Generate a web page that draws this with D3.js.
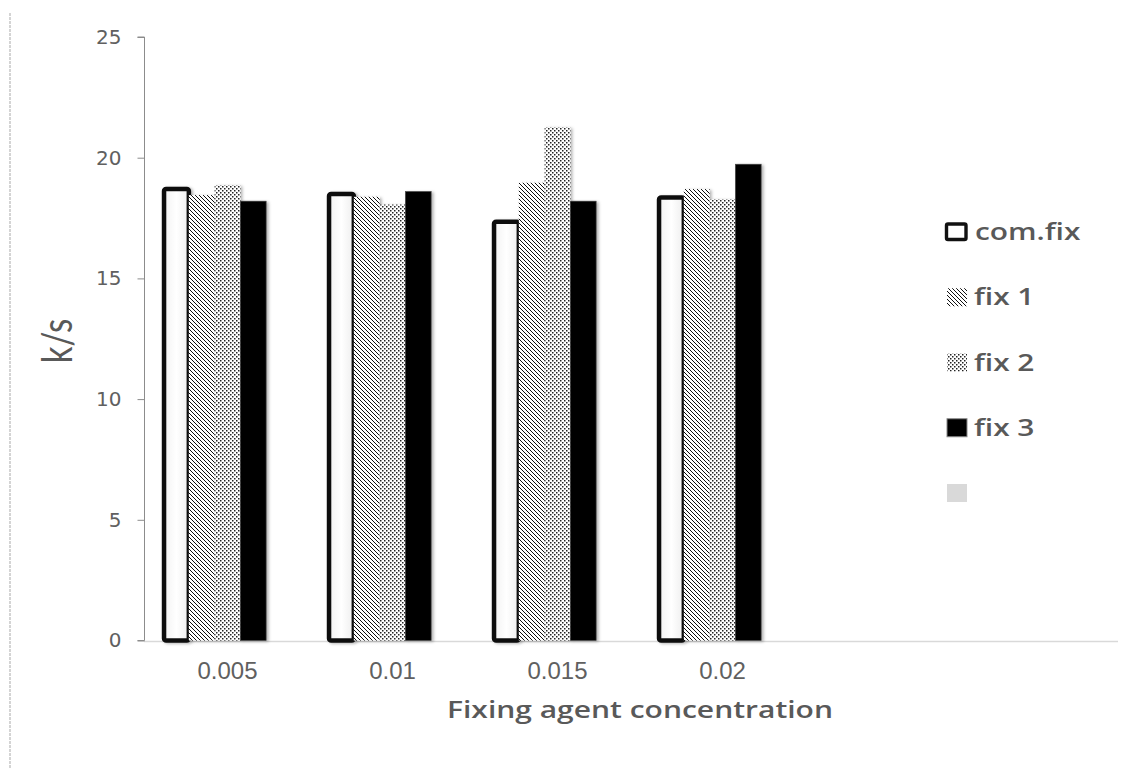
<!DOCTYPE html>
<html><head><meta charset="utf-8">
<script src="https://cdn.jsdelivr.net/npm/d3@7/dist/d3.min.js"></script>
<style>
html,body{margin:0;padding:0;background:#fff;}
svg{display:block;}
</style></head>
<body>
<svg id="chart" width="1148" height="769"></svg>
<script>
// ---- data ----
const categories = ["0.005", "0.01", "0.015", "0.02"];
const emptySlots = ["_e1", "_e2"];           // empty category slots on the x axis
const seriesNames = ["com.fix", "fix 1", "fix 2", "fix 3", ""];
const comFix = [18.7, 18.5, 17.35, 18.35];
const fix1 = [18.45, 18.38, 18.96, 18.7];
const fix2 = [18.86, 18.06, 21.26, 18.28];
const fix3 = [18.2, 18.6, 18.2, 19.73];
const empty = [null, null, null, null];
const yTicks = [0, 5, 10, 15, 20, 25];
const yLabel = "k/s";
const xLabel = "Fixing agent concentration";

const seriesValues = [comFix, fix1, fix2, fix3, empty];

const svg = d3.select("#chart");
const defs = svg.append("defs");

// patterns
const p1 = defs.append("pattern").attr("id", "diag").attr("patternUnits", "userSpaceOnUse")
  .attr("width", 4).attr("height", 4);
p1.append("rect").attr("width", 4).attr("height", 4).attr("fill", "#fff");
p1.append("path").attr("d", "M-1,-1 L5,5 M-1,3 L1,5 M3,-1 L5,1")
  .attr("stroke", "#111").attr("stroke-width", 1.0);

const p2 = defs.append("pattern").attr("id", "dots").attr("patternUnits", "userSpaceOnUse")
  .attr("width", 4).attr("height", 4);
p2.append("rect").attr("width", 4).attr("height", 4).attr("fill", "#fff");
p2.append("rect").attr("x", 0).attr("y", 0).attr("width", 1.5).attr("height", 1.5).attr("fill", "#222");
p2.append("rect").attr("x", 2).attr("y", 2).attr("width", 1.5).attr("height", 1.5).attr("fill", "#222");

const grad = defs.append("linearGradient").attr("id", "whiteGrad").attr("x1", 0).attr("x2", 1);
grad.append("stop").attr("offset", "0%").attr("stop-color", "#f2f2f2");
grad.append("stop").attr("offset", "50%").attr("stop-color", "#ffffff");
grad.append("stop").attr("offset", "100%").attr("stop-color", "#eeeeee");

const shadow = defs.append("filter").attr("id", "shadow")
  .attr("x", "-30%").attr("y", "-10%").attr("width", "170%").attr("height", "120%");
shadow.append("feDropShadow").attr("dx", 2).attr("dy", 1).attr("stdDeviation", 1.6)
  .attr("flood-color", "#000").attr("flood-opacity", 0.3);

// ---- scales ----
const x0 = d3.scaleBand().domain([...categories, ...emptySlots]).range([145, 1135]);
const x1 = d3.scaleBand().domain(seriesNames.map((d, i) => i)).range([0, x0.bandwidth()])
  .paddingInner(0).paddingOuter(0.7);
const y = d3.scaleLinear().domain([0, 25]).range([640.5, 37]);

// left dashed border
svg.append("line").attr("x1", 10).attr("x2", 10).attr("y1", 13).attr("y2", 769)
  .attr("stroke", "#bdbdbd").attr("stroke-width", 1.3).attr("stroke-dasharray", "3,1");

// x axis baseline
svg.append("line").attr("x1", 144).attr("x2", 1118).attr("y1", 641.5).attr("y2", 641.5)
  .attr("stroke", "#d9d9d9").attr("stroke-width", 1.5);

// bars
const styles = [
  {fill: "url(#whiteGrad)", stroke: "#111", sw: 4.5},
  {fill: "url(#diag)", stroke: "none", sw: 0},
  {fill: "url(#dots)", stroke: "none", sw: 0},
  {fill: "#000", stroke: "#444", sw: 0.6},
  {fill: "#d9d9d9", stroke: "none", sw: 0}
];
const barData = [];
seriesValues.forEach((vals, si) => {
  vals.forEach((v, ci) => {
    if (v !== null) barData.push({si, ci, v});
  });
});
svg.append("g").selectAll("rect").data(barData).join("rect")
  .attr("x", d => x0(categories[d.ci]) + x1(d.si) + (d.si === 0 ? 1 : 0))
  .attr("width", d => x1.bandwidth() - (d.si === 0 ? 1 : 0))
  .attr("y", d => y(d.v))
  .attr("height", d => y(0) - y(d.v))
  .attr("fill", d => styles[d.si].fill)
  .attr("stroke", d => styles[d.si].stroke)
  .attr("stroke-width", d => styles[d.si].sw)
  .attr("rx", d => d.si === 0 ? 2 : 0)
  .attr("filter", "url(#shadow)");

// y axis
const yAxis = d3.axisLeft(y).tickValues(yTicks).tickSize(7).tickPadding(16);
const gy = svg.append("g").attr("transform", "translate(144.5,0)").call(yAxis);
gy.select(".domain").attr("stroke", "#8c8c8c").attr("d", `M-7,${y(25)}H0V${y(0)}H-7`);
gy.selectAll(".tick line").attr("stroke", "#8c8c8c");
gy.selectAll(".tick text").attr("fill", "#606060")
  .style("font-family", "DejaVu Sans").style("font-size", "20px");

// x axis labels
const xAxis = d3.axisBottom(x0).tickValues(categories).tickSize(0).tickPadding(21);
const gx = svg.append("g").attr("transform", "translate(0,641)").call(xAxis);
gx.select(".domain").remove();
gx.selectAll(".tick text").attr("fill", "#606060")
  .style("font-family", "Liberation Sans").style("font-size", "24px");

// axis titles (source image is horizontally stretched, so text is widened)
svg.append("text").attr("transform", "translate(640,718) scale(1.25,1)").attr("text-anchor", "middle")
  .style("font-family", "Open Sans").style("font-weight", "600").style("font-size", "24px")
  .attr("fill", "#595959").text(xLabel);
svg.append("text").attr("transform", "translate(72,341) scale(1.3,1) rotate(-90)").attr("text-anchor", "middle")
  .style("font-family", "Lato").style("font-size", "33px")
  .attr("fill", "#595959").text(yLabel);

// legend
const leg = svg.append("g");
const legY = d3.scalePoint().domain(seriesNames.map((d, i) => i)).range([232, 493]);
seriesNames.forEach((name, i) => {
  const cy = legY(i);
  const g = leg.append("g");
  if (i === 0) {
    g.append("rect").attr("x", 946.5).attr("y", cy - 8).attr("width", 19.5).attr("height", 15.5)
      .attr("fill", "#fff").attr("stroke", "#111").attr("stroke-width", 3.4).attr("rx", 1.5);
  } else {
    g.append("rect").attr("x", 947).attr("y", cy - 9).attr("width", 20).attr("height", 18)
      .attr("fill", styles[i].fill)
      .attr("stroke", i === 3 ? "#888" : "none").attr("stroke-width", i === 3 ? 1 : 0);
  }
  if (name) {
    g.append("text").attr("transform", `translate(${i === 0 ? 975 : 974},${cy + 8}) scale(1.3,1)`)
      .style("font-family", "Open Sans").style("font-weight", "600").style("font-size", "23px")
      .attr("fill", "#595959").text(name);
  }
});
</script>
</body></html>
